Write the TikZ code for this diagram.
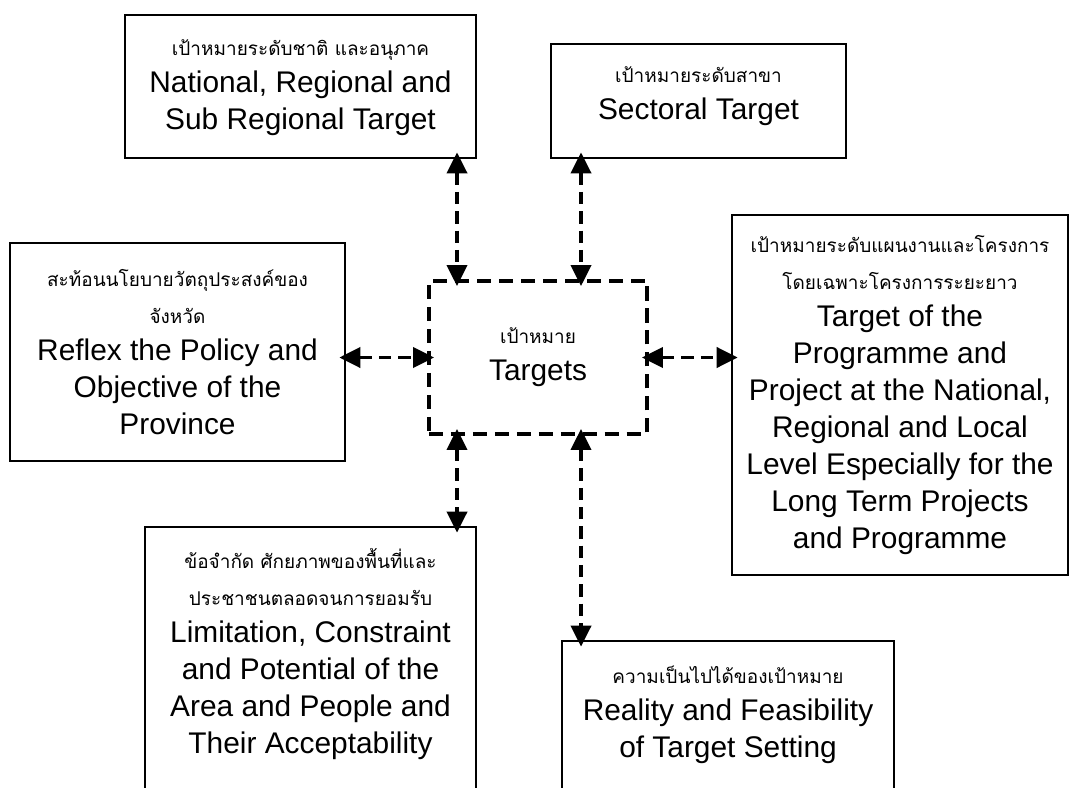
\documentclass[tikz,border=0pt]{standalone}
\usepackage{fontspec}
\setmainfont{Liberation Sans}
\newfontfamily\thaifont[Script=Thai]{Loma}
\usetikzlibrary{arrows.meta,positioning}
\newcommand{\thline}[1]{{\thaifont\fontsize{10.8}{21}\selectfont #1}}
\tikzset{
	box/.style={draw, line width=1.6pt, rectangle},
	goalbox/.style={draw, line width=2.2pt, dash pattern=on 8pt off 4.5pt, rectangle, align=center, font=\fontsize{17}{21}\selectfont},
	words/.style={align=center, font=\fontsize{17}{21}\selectfont, inner sep=0pt},
	link/.style={line width=2pt, dash pattern=on 7pt off 4pt,
		{Triangle[length=12pt,width=11.5pt]}-{Triangle[length=12pt,width=11.5pt]},
		shorten <=-4pt, shorten >=-4pt}
}
\begin{document}
\begin{tikzpicture}[x=0.02cm, y=-0.02cm]
	\useasboundingbox (0,0) rectangle (1070,787);
	\clip (0,0) rectangle (1070,787);
	% Boxes
	\node[box, minimum width=7.02cm, minimum height=2.86cm] (natl) at (300.5,86.5) {};
	\node[box, minimum width=5.9cm, minimum height=2.28cm] (sect) at (698.5,101) {};
	\node[box, minimum width=6.7cm, minimum height=4.36cm] (prov) at (177.5,352) {};
	\node[goalbox, minimum width=4.36cm, minimum height=3.06cm] (goal) at (538,357.5)
		{\thline{เป้าหมาย}\\Targets};
	\node[box, minimum width=6.72cm, minimum height=7.2cm] (prog) at (900,395) {};
	\node[box, minimum width=6.62cm, minimum height=5.46cm] (lim) at (310.5,663.5) {};
	\node[box, minimum width=6.64cm, minimum height=3.18cm] (feas) at (728,720.5) {};
	% Texts
	\node[words, anchor=north] (natl-txt) at ([yshift=-0.52cm]natl.north)
		{\thline{เป้าหมายระดับชาติ และอนุภาค}\\National, Regional and\\Sub Regional Target};
	\node[words, anchor=north] (sect-txt) at ([yshift=-0.47cm]sect.north)
		{\thline{เป้าหมายระดับสาขา}\\Sectoral Target};
	\node[words] (prov-txt) at (prov)
		{\thline{สะท้อนนโยบายวัตถุประสงค์ของ}\\\thline{จังหวัด}\\Reflex the Policy and\\Objective of the\\Province};
	\node[words] (prog-txt) at (prog)
		{\thline{เป้าหมายระดับแผนงานและโครงการ}\\\thline{โดยเฉพาะโครงการระยะยาว}\\Target of the\\Programme and\\Project at the National,\\Regional and Local\\Level Especially for the\\Long Term Projects\\and Programme};
	\node[words, anchor=north] (lim-txt) at ([yshift=-0.45cm]lim.north)
		{\thline{ข้อจำกัด ศักยภาพของพื้นที่และ}\\\thline{ประชาชนตลอดจนการยอมรับ}\\Limitation, Constraint\\and Potential of the\\Area and People and\\Their Acceptability};
	\node[words, anchor=north] (feas-txt) at ([yshift=-0.52cm]feas.north)
		{\thline{ความเป็นไปได้ของเป้าหมาย}\\Reality and Feasibility\\of Target Setting};
	% Arrows
	\coordinate (colA) at (457,0);
	\coordinate (colB) at (581,0);
	\draw[link] (natl.south -| colA) -- (goal.north -| colA);
	\draw[link] (sect.south -| colB) -- (goal.north -| colB);
	\draw[link] (prov.east |- goal) -- (goal.west);
	\draw[link] (goal.east) -- (prog.west |- goal);
	\draw[link] (goal.south -| colA) -- (lim.north -| colA);
	\draw[link] (goal.south -| colB) -- (feas.north -| colB);
\end{tikzpicture}
\end{document}
